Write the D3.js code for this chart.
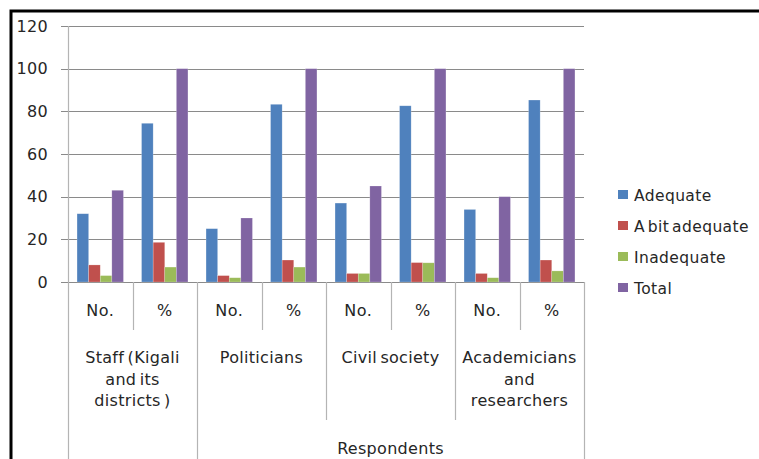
<!DOCTYPE html>
<html>
<head>
<meta charset="utf-8">
<script src="https://cdn.jsdelivr.net/npm/d3@7"></script>
<style>
  body { margin: 0; background: #fff; }
  svg text { font-family: 'DejaVu Sans', sans-serif; fill: #262626; }
</style>
</head>
<body>
<div id="chart"></div>
<script>
const columns = ['No.', '%', 'No.', '%', 'No.', '%', 'No.', '%']
const groups = [
  ['Staff  (Kigali', 'and its', 'districts )'],
  ['Politicians'],
  ['Civil society'],
  ['Academicians', 'and', 'researchers']
]
const topLabel = 'Respondents'
const seriesNames = ['Adequate', 'A bit adequate', 'Inadequate', 'Total']
const adequate = [32, 74.4, 25, 83.3, 37, 82.6, 34, 85.3]
const aBitAdequate = [8, 18.6, 3, 10.3, 4, 9.1, 4, 10.3]
const inadequate = [3, 7, 2, 7, 4, 9, 2, 5.2]
const total = [43, 100, 30, 100, 45, 100, 40, 100]
const yTicks = [0, 20, 40, 60, 80, 100, 120]
const colors = ['#4F81BD', '#C0504D', '#9BBB59', '#8064A2']

const seriesValues = [adequate, aBitAdequate, inadequate, total]

const width = 759
const height = 459
const plot = { left: 68, right: 584, top: 26, bottom: 282 }

const svg = d3.select('#chart')
  .append('svg')
  .attr('width', width)
  .attr('height', height)

// outer frame
svg.append('rect')
  .attr('x', 11)
  .attr('y', 11)
  .attr('width', 800)
  .attr('height', 500)
  .attr('fill', 'none')
  .attr('stroke', '#000')
  .attr('stroke-width', 3)

const x = d3.scaleBand()
  .domain(d3.range(columns.length))
  .range([plot.left, plot.right])

const xInner = d3.scaleBand()
  .domain(seriesNames)
  .range([0, x.bandwidth()])
  .paddingInner(0)
  .paddingOuter(0.78)

const y = d3.scaleLinear()
  .domain([0, 120])
  .range([plot.bottom, plot.top])

// gridlines + ticks
svg.append('g')
  .selectAll('line')
  .data(yTicks)
  .enter().append('line')
  .attr('x1', plot.left - 7)
  .attr('x2', plot.right)
  .attr('y1', d => Math.round(y(d)) + 0.5)
  .attr('y2', d => Math.round(y(d)) + 0.5)
  .attr('stroke', '#8a8a8a')
  .attr('stroke-width', 1)

svg.append('g')
  .selectAll('text')
  .data(yTicks)
  .enter().append('text')
  .attr('x', 48)
  .attr('y', d => y(d) + 5.5)
  .attr('text-anchor', 'end')
  .attr('font-size', '16px')
  .attr('letter-spacing', '0.3px')
  .text(d => d)

// bars
const colG = svg.append('g')
  .selectAll('g')
  .data(columns.map((c, i) => i))
  .enter().append('g')
  .attr('transform', i => `translate(${x(i)},0)`)

colG.selectAll('rect')
  .data(i => seriesNames.map((s, k) => ({ s, k, v: seriesValues[k][i] })))
  .enter().append('rect')
  .attr('x', d => xInner(d.s))
  .attr('width', xInner.bandwidth())
  .attr('y', d => y(d.v))
  .attr('height', d => y(0) - y(d.v))
  .attr('fill', d => colors[d.k])
  .attr('stroke', 'rgba(255,255,255,0.35)')
  .attr('stroke-width', 0.6)

// category axis separators
const sepColor = '#b4b4b4'
const boundaries = d3.range(columns.length + 1).map(i => i === columns.length ? plot.right : x(i))
svg.append('g')
  .selectAll('line')
  .data(boundaries)
  .enter().append('line')
  .attr('x1', d => Math.round(d) + 0.5)
  .attr('x2', d => Math.round(d) + 0.5)
  .attr('y1', (d, i) => i === 0 ? plot.top : plot.bottom)
  .attr('y2', (d, i) => {
    if (i === 0 || i === 2 || i === columns.length) return height
    if (i % 2 === 0) return 420
    return 330
  })
  .attr('stroke', sepColor)
  .attr('stroke-width', 1.2)

// first level labels
svg.append('g')
  .selectAll('text')
  .data(columns)
  .enter().append('text')
  .attr('x', (d, i) => x(i) + x.bandwidth() / 2)
  .attr('y', 316)
  .attr('text-anchor', 'middle')
  .attr('font-size', '16px')
  .attr('letter-spacing', '0.4px')
  .text(d => d)

// second level labels
groups.forEach((lines, g) => {
  const cx = x(g * 2) + x.bandwidth()
  svg.append('text')
    .attr('text-anchor', 'middle')
    .attr('font-size', '16px')
    .attr('letter-spacing', '0.3px')
    .attr('word-spacing', '-2px')
    .selectAll('tspan')
    .data(lines)
    .enter().append('tspan')
    .attr('x', cx)
    .attr('y', (d, i) => 363 + i * 21.5)
    .text(d => d)
})

// top level label
svg.append('text')
  .attr('x', (x(2) + plot.right) / 2)
  .attr('y', 454)
  .attr('text-anchor', 'middle')
  .attr('font-size', '16px')
  .attr('letter-spacing', '0.3px')
  .text(topLabel)

// legend
const legend = svg.append('g')
  .attr('transform', 'translate(618, 195)')

legend.selectAll('rect')
  .data(seriesNames)
  .enter().append('rect')
  .attr('x', 0)
  .attr('y', (d, i) => i * 31 - 5)
  .attr('width', 10)
  .attr('height', 9)
  .attr('fill', (d, i) => colors[i])

legend.selectAll('text')
  .data(seriesNames)
  .enter().append('text')
  .attr('x', 16)
  .attr('y', (d, i) => i * 31 + 5.5)
  .attr('font-size', '15.5px')
  .attr('letter-spacing', '0.4px')
  .attr('word-spacing', '-2.5px')
  .text(d => d)
</script>
</body>
</html>
